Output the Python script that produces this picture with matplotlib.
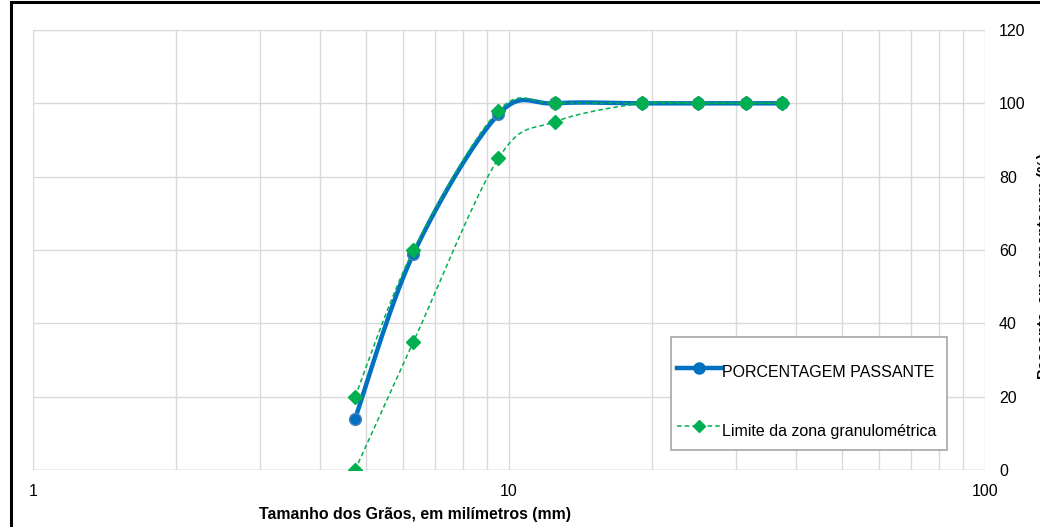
import matplotlib.pyplot as plt
import numpy as np
from matplotlib.patches import Rectangle
from matplotlib.ticker import FixedLocator, NullFormatter

plt.rcParams['font.family'] = ['Liberation Sans', 'DejaVu Sans']

# dados da granulometria
peneiras = [4.75, 6.3, 9.5, 12.5, 19, 25, 31.5, 37.5]
passante = [14, 59, 97, 100, 100, 100, 100, 100]
lim_inferior = [0, 35, 85, 95, 100, 100, 100, 100]
lim_superior = [20, 60, 98, 100, 100, 100, 100, 100]

x_ticks = [1, 10, 100]
x_ticklabels = ['1', '10', '100']
y_ticks = [0, 20, 40, 60, 80, 100, 120]

azul = '#0070C0'
verde = '#00B050'


def suavizar(xs, ys, n=30):
    # curva suavizada como no Excel (Catmull-Rom em escala log)
    u = np.log10(np.asarray(xs, float))
    v = np.asarray(ys, float)
    pts = np.column_stack([u, v])
    p = np.vstack([pts[0], pts, pts[-1]])
    out = []
    t = np.linspace(0, 1, n)[:, None]
    for i in range(1, len(p) - 2):
        p0, p1, p2, p3 = p[i - 1], p[i], p[i + 1], p[i + 2]
        c1 = p1 + (p2 - p0) / 6
        c2 = p2 - (p3 - p1) / 6
        seg = ((1 - t) ** 3) * p1 + 3 * ((1 - t) ** 2) * t * c1 \
            + 3 * (1 - t) * t ** 2 * c2 + t ** 3 * p2
        out.append(seg)
    out = np.vstack(out)
    return 10 ** out[:, 0], out[:, 1]


fig = plt.figure(figsize=(10.4, 5.27), dpi=100)
ax = fig.add_axes([33 / 1040, 1 - 470 / 527, 952 / 1040, 440 / 527])

sx, sy = suavizar(peneiras, passante)
ax.plot(sx, sy, color=azul, lw=3.2, zorder=3, solid_capstyle='round')
ax.plot(peneiras, passante, 'o', color=azul, mec='#4F81BD', ms=8.5, zorder=3)
h1, = ax.plot([], [], color=azul, lw=3.2, marker='o', ms=8, mec=azul)

for serie in (lim_inferior, lim_superior):
    sx, sy = suavizar(peneiras, serie)
    ax.plot(sx, sy, color=verde, lw=1.1, ls=(0, (3, 2)), zorder=4)
    ax.plot(peneiras, serie, 'D', color=verde, ms=7, zorder=4)
h2, = ax.plot([], [], color=verde, lw=1.1, ls=(0, (3, 2)), marker='D', ms=6)

ax.set_xscale('log')
ax.set_xlim(1, 100)
ax.set_ylim(0, 120)
ax.xaxis.set_major_locator(FixedLocator(x_ticks))
ax.set_xticklabels(x_ticklabels)
ax.xaxis.set_minor_locator(FixedLocator([d * 10 ** e for e in (0, 1) for d in range(2, 10)]))
ax.xaxis.set_minor_formatter(NullFormatter())
ax.set_yticks(y_ticks)
ax.yaxis.tick_right()
ax.grid(True, which='both', axis='x', color='#D9D9D9', lw=1)
ax.grid(True, which='major', axis='y', color='#D9D9D9', lw=1)
ax.set_axisbelow(True)
for s in ax.spines.values():
    s.set_visible(False)
ax.axhline(0, color='#BFBFBF', lw=1, zorder=1)
ax.tick_params(axis='both', which='both', length=0, labelsize=11.5, colors='black')
ax.tick_params(axis='y', pad=10)
ax.tick_params(axis='x', pad=10)

# caixa da legenda desenhada à parte
ax.add_patch(Rectangle((0.6702, 0.0455), 0.2899, 0.2568, transform=ax.transAxes,
                       facecolor='white', edgecolor='#A6A6A6', lw=1.2, zorder=5))
leg = ax.legend([h1, h2], ['PORCENTAGEM PASSANTE', 'Limite da zona granulométrica'],
                loc='upper left', bbox_to_anchor=(0.6702, 0.268), fontsize=11.5,
                frameon=False, handlelength=2.75, handleheight=2.5,
                handletextpad=0.12, labelspacing=1.78, borderpad=0.35,
                borderaxespad=0, numpoints=1)
leg.set_zorder(6)

fig.text(415 / 1040, 1 - 515 / 527, 'Tamanho dos Grãos, em milímetros (mm)',
         ha='center', va='center', fontsize=11.4, fontweight='bold')
fig.text(1044 / 1040, 1 - 266 / 527, 'Passante, em porcentagem (%)',
         ha='center', va='center', rotation=90, fontsize=11, fontweight='bold')

fig.add_artist(Rectangle((11 / 1040, -0.1), 1.2, 1.1 - 2 / 527,
                         transform=fig.transFigure, fill=False,
                         edgecolor='black', lw=2.2))

fig.savefig('out.png', dpi=100)
